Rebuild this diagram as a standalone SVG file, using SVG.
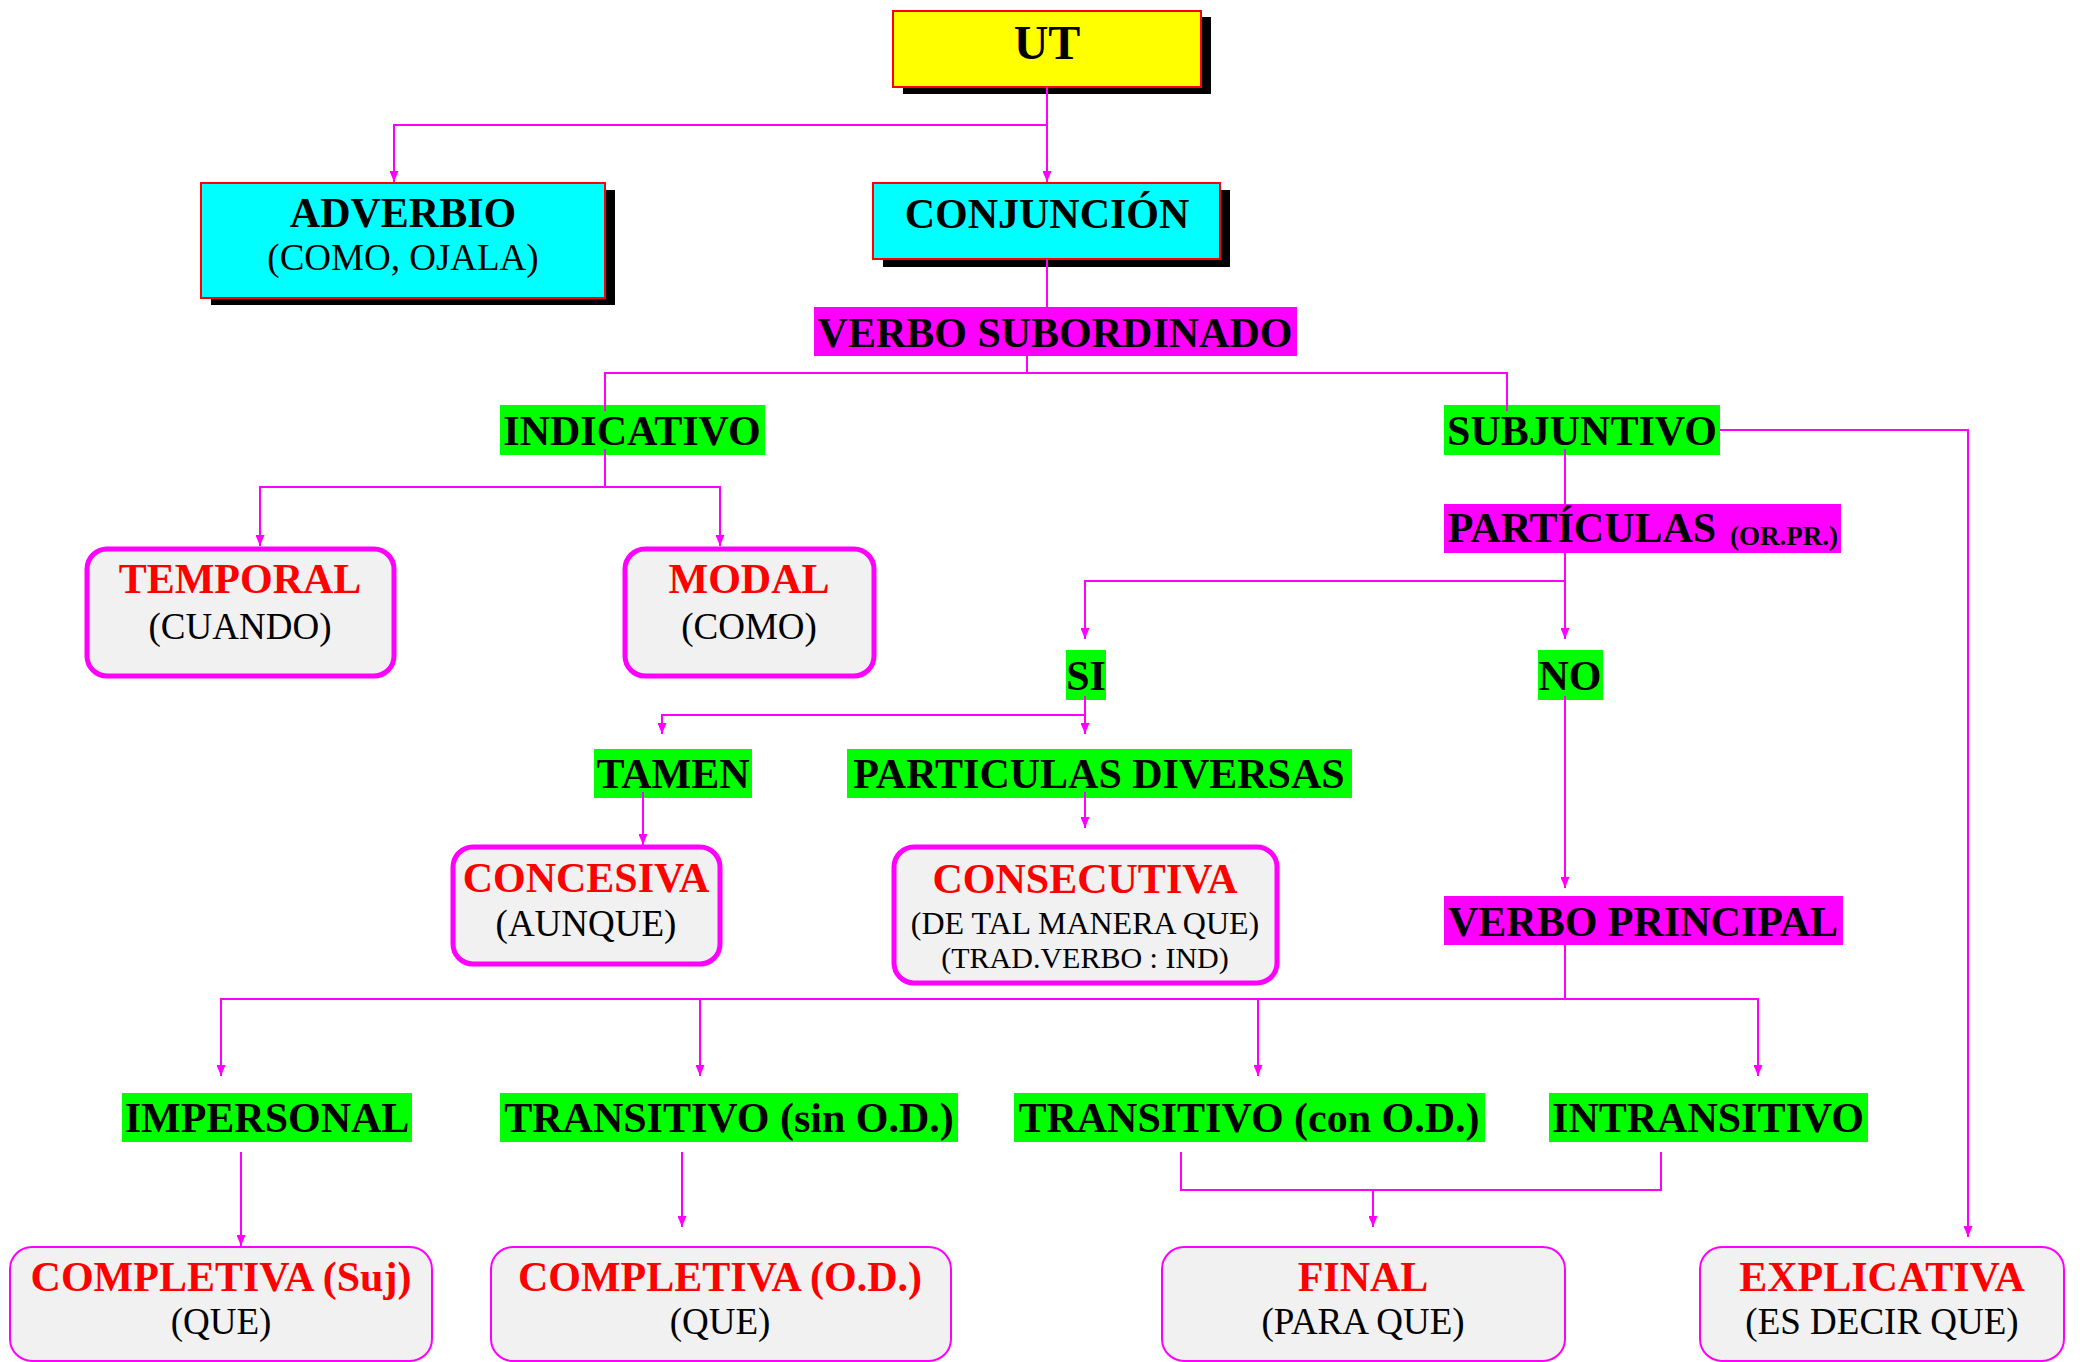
<svg xmlns="http://www.w3.org/2000/svg" width="2080" height="1362" viewBox="0 0 2080 1362">
<style>
text{font-family:"Liberation Serif","Times New Roman",serif;text-anchor:middle}
.b{font-weight:bold;font-size:42px;fill:#000}
.r{font-weight:bold;font-size:42px;fill:#f00}
.n{font-size:37px;fill:#000}
.sh{fill:#000}
.hb{stroke:#f00;stroke-width:2}
.green{fill:#0f0}
.mag{fill:#f0f}
.rb{fill:#f1f1f1;stroke:#f0f;stroke-width:5}
.rt{fill:#f1f1f1;stroke:#f0f;stroke-width:2}
.c{fill:none;stroke:#f0f;stroke-width:2}
</style>
<defs>
<marker id="arr" viewBox="0 0 11 9" refX="11" refY="4.5" markerWidth="11" markerHeight="9" orient="auto" markerUnits="userSpaceOnUse"><path d="M0,0 L11,4.5 L0,9 z" fill="#f0f"/></marker>
</defs>
<rect width="2080" height="1362" fill="#fff"/>

<g id="ut">
<rect class="sh" x="903" y="17" width="308" height="77"/>
<rect class="hb" x="893" y="11" width="308" height="76" fill="#ff0"/>
<text class="b" x="1047" y="59" style="font-size:48px">UT</text>
</g>
<g id="adverbio">
<rect class="sh" x="211" y="190" width="404" height="115"/>
<rect class="hb" x="201" y="183" width="404" height="115" fill="#0ff"/>
<text class="b" x="403" y="227">ADVERBIO</text>
<text class="n" x="403" y="270">(COMO, OJALA)</text>
</g>
<g id="conjuncion">
<rect class="sh" x="883" y="190" width="347" height="77"/>
<rect class="hb" x="873" y="183" width="347" height="76" fill="#0ff"/>
<text class="b" x="1047" y="228">CONJUNCIÓN</text>
</g>
<g id="verbo-sub">
<rect class="mag" x="814" y="307" width="483" height="49"/>
<text class="b" x="1055" y="347">VERBO SUBORDINADO</text>
</g>
<g id="indicativo">
<rect class="green" x="500" y="405" width="265" height="50"/>
<text class="b" x="632" y="445">INDICATIVO</text>
</g>
<g id="subjuntivo">
<rect class="green" x="1444" y="405" width="276" height="50"/>
<text class="b" x="1582" y="445">SUBJUNTIVO</text>
</g>
<g id="temporal">
<rect class="rb" x="87" y="549" width="307" height="127" rx="20"/>
<text class="r" x="240" y="593">TEMPORAL</text>
<text class="n" x="240" y="639">(CUANDO)</text>
</g>
<g id="modal">
<rect class="rb" x="625" y="549" width="249" height="127" rx="20"/>
<text class="r" x="749" y="593">MODAL</text>
<text class="n" x="749" y="639">(COMO)</text>
</g>
<g id="particulas">
<rect class="mag" x="1444" y="504" width="397" height="49"/>
<text class="b" x="1582" y="542">PARTÍCULAS</text>
<text class="b" x="1784" y="545" style="font-size:27px">(OR.PR.)</text>
</g>
<g id="si">
<rect class="green" x="1066" y="650" width="40" height="50"/>
<text class="b" x="1086" y="690">SI</text>
</g>
<g id="no">
<rect class="green" x="1538" y="650" width="65" height="50"/>
<text class="b" x="1570" y="690">NO</text>
</g>
<g id="tamen">
<rect class="green" x="594" y="749" width="158" height="49"/>
<text class="b" x="673" y="788">TAMEN</text>
</g>
<g id="particulas-diversas">
<rect class="green" x="847" y="749" width="505" height="49"/>
<text class="b" x="1099" y="788">PARTICULAS DIVERSAS</text>
</g>
<g id="concesiva">
<rect class="rb" x="453" y="847" width="267" height="117" rx="20"/>
<text class="r" x="586" y="892">CONCESIVA</text>
<text class="n" x="586" y="936">(AUNQUE)</text>
</g>
<g id="consecutiva">
<rect class="rb" x="894" y="847" width="383" height="136" rx="20"/>
<text class="r" x="1085" y="893">CONSECUTIVA</text>
<text class="n" x="1085" y="934" style="font-size:32px">(DE TAL MANERA QUE)</text>
<text class="n" x="1085" y="968" style="font-size:30px">(TRAD.VERBO : IND)</text>
</g>
<g id="verbo-principal">
<rect class="mag" x="1444" y="896" width="399" height="49"/>
<text class="b" x="1643" y="936">VERBO PRINCIPAL</text>
</g>
<g id="impersonal">
<rect class="green" x="122" y="1093" width="290" height="49"/>
<text class="b" x="267" y="1132">IMPERSONAL</text>
</g>
<g id="trans-sin">
<rect class="green" x="500" y="1093" width="458" height="49"/>
<text class="b" x="729" y="1132">TRANSITIVO (sin O.D.)</text>
</g>
<g id="trans-con">
<rect class="green" x="1014" y="1093" width="471" height="49"/>
<text class="b" x="1249" y="1132">TRANSITIVO (con O.D.)</text>
</g>
<g id="intransitivo">
<rect class="green" x="1549" y="1093" width="319" height="49"/>
<text class="b" x="1708" y="1132">INTRANSITIVO</text>
</g>
<g id="completiva-suj">
<rect class="rt" x="10" y="1247" width="422" height="114" rx="22"/>
<text class="r" x="221" y="1291">COMPLETIVA (Suj)</text>
<text class="n" x="221" y="1334">(QUE)</text>
</g>
<g id="completiva-od">
<rect class="rt" x="491" y="1247" width="460" height="114" rx="22"/>
<text class="r" x="720" y="1291">COMPLETIVA (O.D.)</text>
<text class="n" x="720" y="1334">(QUE)</text>
</g>
<g id="final">
<rect class="rt" x="1162" y="1247" width="403" height="114" rx="22"/>
<text class="r" x="1363" y="1291">FINAL</text>
<text class="n" x="1363" y="1334">(PARA QUE)</text>
</g>
<g id="explicativa">
<rect class="rt" x="1700" y="1247" width="364" height="114" rx="22"/>
<text class="r" x="1882" y="1291">EXPLICATIVA</text>
<text class="n" x="1882" y="1334">(ES DECIR QUE)</text>
</g>

<g id="connectors">
<path class="c" d="M1047,87 V125 H394 V182" marker-end="url(#arr)"/>
<path class="c" d="M1047,87 V182" marker-end="url(#arr)"/>
<path class="c" d="M1047,259 V307"/>
<path class="c" d="M1027,356 V373 H605 V411"/>
<path class="c" d="M1027,373 H1507 V411"/>
<path class="c" d="M605,449 V487 H260 V546" marker-end="url(#arr)"/>
<path class="c" d="M605,487 H720 V546" marker-end="url(#arr)"/>
<path class="c" d="M1565,449 V504"/>
<path class="c" d="M1720,430 H1968 V1237" marker-end="url(#arr)"/>
<path class="c" d="M1565,553 V581 H1085 V639" marker-end="url(#arr)"/>
<path class="c" d="M1565,581 V639" marker-end="url(#arr)"/>
<path class="c" d="M1085,696 V715 H662 V734" marker-end="url(#arr)"/>
<path class="c" d="M1085,715 V734" marker-end="url(#arr)"/>
<path class="c" d="M643,792 V845" marker-end="url(#arr)"/>
<path class="c" d="M1085,792 V828" marker-end="url(#arr)"/>
<path class="c" d="M1565,696 V888" marker-end="url(#arr)"/>
<path class="c" d="M1565,945 V999 H221 V1076" marker-end="url(#arr)"/>
<path class="c" d="M1565,999 H1758 V1076" marker-end="url(#arr)"/>
<path class="c" d="M700,999 V1076" marker-end="url(#arr)"/>
<path class="c" d="M1258,999 V1076" marker-end="url(#arr)"/>
<path class="c" d="M241,1152 V1246" marker-end="url(#arr)"/>
<path class="c" d="M682,1152 V1227" marker-end="url(#arr)"/>
<path class="c" d="M1181,1152 V1190 H1661 V1152"/>
<path class="c" d="M1373,1190 V1227" marker-end="url(#arr)"/>
</g>
</svg>
